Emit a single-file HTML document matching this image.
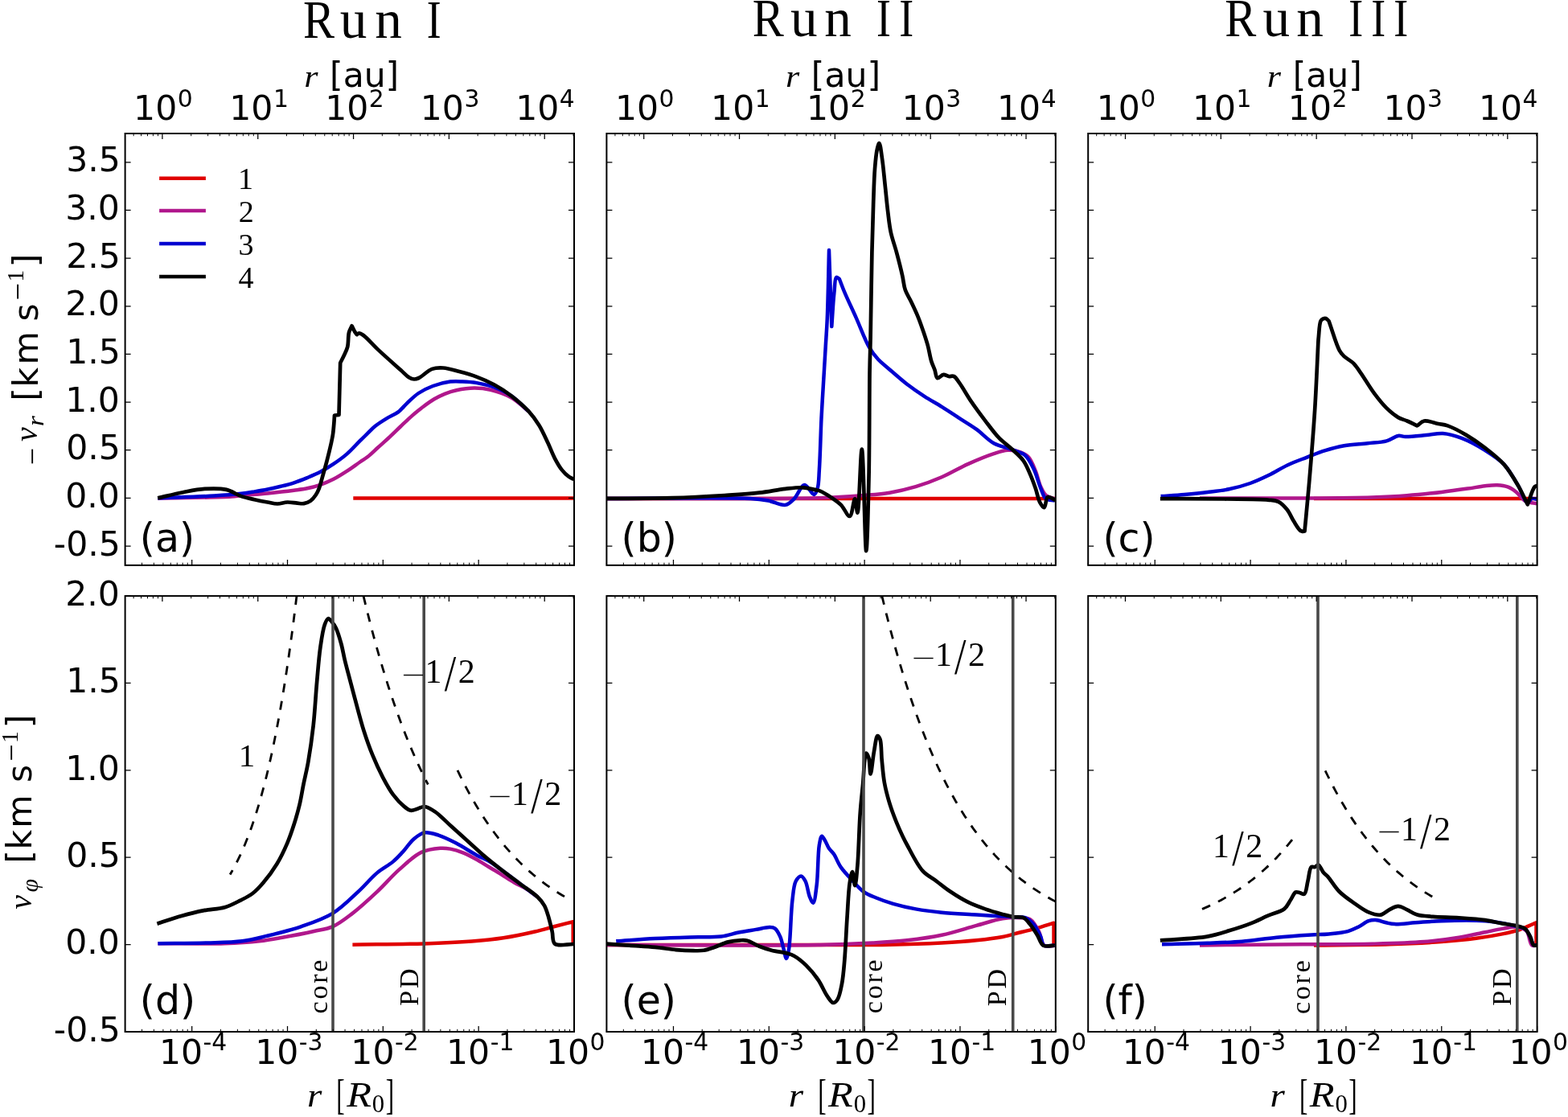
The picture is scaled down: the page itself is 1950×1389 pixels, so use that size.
<!DOCTYPE html><html><head><meta charset="utf-8"><title>Run I / Run II / Run III velocity profiles</title>
<style>html,body{margin:0;padding:0;background:#fff;}svg{display:block;}</style></head><body>
<svg width="1950" height="1389" viewBox="0 0 1950 1389">
<rect x="0" y="0" width="1950" height="1389" fill="#fff"/>
<defs>
<clipPath id="cp00"><rect x="155.60" y="166.00" width="558.40" height="536.90"/></clipPath>
<clipPath id="cp01"><rect x="754.40" y="166.00" width="558.40" height="536.90"/></clipPath>
<clipPath id="cp02"><rect x="1353.20" y="166.00" width="558.40" height="536.90"/></clipPath>
<clipPath id="cp10"><rect x="155.60" y="741.10" width="558.40" height="541.90"/></clipPath>
<clipPath id="cp11"><rect x="754.40" y="741.10" width="558.40" height="541.90"/></clipPath>
<clipPath id="cp12"><rect x="1353.20" y="741.10" width="558.40" height="541.90"/></clipPath>
</defs>
<g clip-path="url(#cp00)" fill="none" stroke-linejoin="round" stroke-linecap="butt"><path d="M439.30 619.60 L713.70 619.60" stroke="#e00000" stroke-width="4.5"/><path d="M196.20 619.70 C226.80 619.00 271.76 618.66 288.00 617.60 C293.89 617.21 295.01 616.79 300.00 616.30 C308.24 615.49 321.87 614.50 332.80 613.40 C343.74 612.30 356.55 610.87 365.60 609.70 C372.01 608.87 376.57 608.44 382.00 607.30 C387.50 606.15 393.00 604.68 398.40 602.80 C403.93 600.87 409.42 598.55 414.80 595.80 C420.39 592.95 425.87 589.41 431.30 585.90 C436.84 582.32 443.01 577.71 447.70 574.50 C451.20 572.11 453.66 570.83 456.90 568.30 C460.99 565.11 465.51 560.53 470.00 556.50 C474.73 552.25 479.88 547.79 484.60 543.40 C489.20 539.12 493.45 534.83 498.00 530.50 C502.67 526.06 507.51 521.28 512.30 517.10 C516.84 513.14 521.34 509.49 526.00 506.00 C530.58 502.57 535.32 499.07 540.00 496.30 C544.32 493.74 548.46 491.63 553.00 489.80 C557.68 487.91 562.24 486.38 567.70 485.20 C574.28 483.78 582.67 482.53 589.90 482.50 C596.79 482.47 603.06 483.11 610.10 484.80 C618.31 486.77 628.08 490.01 636.00 494.50 C643.91 498.98 650.40 505.97 657.60 511.70" stroke="#b0178c" stroke-width="4.5"/><path d="M196.20 619.30 C219.60 618.37 247.27 617.65 266.40 616.50 C279.65 615.70 290.80 614.84 300.00 613.80 C306.45 613.07 310.94 612.28 316.40 611.40 C321.87 610.52 327.35 609.60 332.80 608.50 C338.28 607.40 343.75 606.16 349.20 604.80 C354.68 603.43 360.17 602.07 365.60 600.30 C371.11 598.51 376.57 596.33 382.00 594.10 C387.50 591.84 393.02 589.61 398.40 586.80 C403.96 583.90 409.41 580.52 414.80 576.90 C420.38 573.15 425.97 569.21 431.30 564.60 C436.96 559.71 443.01 552.84 447.70 548.20 C451.20 544.74 453.80 542.21 456.90 539.20 C460.04 536.15 462.76 532.95 466.40 530.00 C470.57 526.62 475.93 523.27 480.80 520.30 C485.54 517.41 490.94 515.59 495.20 512.40 C499.31 509.32 502.08 505.27 506.00 501.60 C510.39 497.49 515.08 492.57 520.40 489.00 C525.85 485.34 531.99 482.37 538.40 480.00 C545.14 477.51 553.41 475.43 560.00 474.60 C565.41 473.92 569.79 474.28 575.00 474.50 C580.69 474.74 586.62 475.06 592.80 476.10 C599.70 477.26 607.34 478.89 614.40 481.50 C621.75 484.22 629.10 487.60 636.00 492.30 C643.56 497.45 650.40 505.23 657.60 511.70" stroke="#0000d0" stroke-width="4.5"/><path d="M196.20 619.30 C206.63 616.93 217.42 614.14 227.50 612.20 C236.80 610.41 245.47 608.45 254.50 607.90 C263.47 607.36 273.50 607.05 281.50 608.90 C288.42 610.50 293.93 615.01 300.00 617.10 C305.55 619.01 310.92 619.96 316.40 621.20 C321.85 622.43 327.72 623.58 332.80 624.50 C337.19 625.30 341.00 626.50 345.10 626.50 C349.20 626.50 353.29 624.63 357.40 624.50 C361.49 624.37 366.01 625.43 369.70 625.70 C372.71 625.92 375.21 626.54 377.90 626.10 C380.68 625.65 383.69 624.58 386.10 622.90 C388.66 621.12 390.90 618.16 392.70 615.50 C394.43 612.94 395.56 610.46 396.80 607.30 C398.37 603.31 399.44 598.42 400.90 593.30 C402.66 587.12 404.81 579.65 406.60 572.80 C408.38 565.98 410.29 558.28 411.60 552.30 C412.61 547.69 413.39 544.17 414.00 540.00 C414.63 535.74 414.96 531.10 415.30 527.00 C415.61 523.32 415.77 520.00 416.00 516.50 L416.00 516.50 L421.50 516.00 L421.50 516.00 L423.20 451.20 L423.20 451.20 C424.70 448.20 426.25 445.36 427.70 442.20 C429.26 438.79 431.15 435.55 432.20 431.40 C433.50 426.24 432.74 418.14 434.00 413.40 C434.88 410.08 436.40 408.00 437.60 405.30 L437.60 405.30 C438.80 407.70 440.00 410.55 441.20 412.50 C442.10 413.95 443.00 414.90 443.90 416.10 L443.90 416.10 C444.80 415.50 445.52 414.37 446.60 414.30 C448.07 414.21 449.81 415.44 452.00 417.00 C456.57 420.26 463.85 428.88 470.80 435.40 C479.07 443.16 491.45 454.04 498.50 460.30 C502.82 464.13 505.82 467.67 509.00 469.50 C511.14 470.73 512.99 471.42 515.00 471.50 C516.99 471.58 518.63 471.07 521.00 470.00 C525.22 468.10 531.75 460.89 537.20 458.90 C541.80 457.22 546.07 457.19 551.10 457.50 C557.21 457.88 564.41 460.30 571.20 462.10 C578.30 463.98 585.69 465.94 592.80 468.60 C600.09 471.32 607.34 474.46 614.40 478.30 C621.76 482.31 629.00 486.94 636.00 492.30 C643.43 497.99 651.59 505.11 657.60 511.70 C662.78 517.38 666.64 522.73 670.50 529.00 C674.59 535.63 677.97 543.55 681.30 550.60 C684.44 557.23 686.90 564.23 690.00 570.10 C692.72 575.25 695.47 580.16 698.60 584.10 C701.30 587.50 704.47 590.64 707.30 592.70 C709.47 594.28 711.57 594.90 713.70 596.00" stroke="#000000" stroke-width="4.7"/></g>
<g clip-path="url(#cp01)" fill="none" stroke-linejoin="round" stroke-linecap="butt"><path d="M754.30 620.10 L1312.60 620.10" stroke="#e00000" stroke-width="4.5"/><path d="M754.30 619.90 C842.87 619.67 964.97 620.90 1020.00 619.20 C1044.83 618.43 1058.30 617.26 1074.00 616.00 C1086.18 615.02 1095.66 614.48 1106.40 612.70 C1117.26 610.90 1128.10 608.39 1138.80 605.20 C1149.70 601.95 1160.53 597.91 1171.20 593.30 C1182.13 588.58 1192.70 582.00 1203.60 577.10 C1214.30 572.29 1226.79 567.08 1236.00 564.10 C1242.58 561.97 1247.70 560.08 1253.30 559.80 C1258.48 559.54 1263.93 560.40 1268.40 562.00 C1272.46 563.45 1276.17 565.23 1279.20 568.50 C1282.94 572.54 1285.31 579.69 1287.80 585.70 C1290.37 591.91 1291.80 599.77 1294.30 605.20 C1296.26 609.45 1297.83 613.48 1300.80 616.00 C1303.66 618.42 1308.00 618.87 1311.60 620.30" stroke="#b0178c" stroke-width="4.5"/><path d="M754.30 619.90 C814.07 619.90 902.83 618.05 933.60 619.90 C944.32 620.54 948.04 621.18 955.20 622.50 C962.44 623.84 971.03 628.98 976.80 627.90 C981.25 627.07 984.10 623.70 987.60 620.30 C992.07 615.95 996.10 603.32 1000.50 603.00 C1004.39 602.72 1009.58 615.28 1012.40 614.90 C1014.43 614.62 1015.64 610.68 1016.70 607.30 C1018.45 601.72 1018.24 593.42 1018.90 583.60 C1019.97 567.54 1020.58 538.75 1021.50 520.00 C1022.23 505.12 1022.98 493.99 1023.80 480.00 C1024.70 464.56 1025.82 446.31 1026.70 431.30 C1027.46 418.40 1028.19 409.82 1028.80 395.30 C1029.74 373.09 1030.27 339.10 1031.00 311.00 L1031.00 311.00 L1034.30 406.10 L1034.30 406.10 C1035.30 392.40 1036.05 376.27 1037.30 365.00 C1038.18 357.06 1038.17 345.79 1040.30 344.80 C1041.27 344.35 1042.70 346.27 1043.90 347.00 L1043.90 347.00 C1046.07 352.53 1047.70 357.22 1050.40 363.60 C1054.17 372.51 1059.91 384.38 1064.80 395.30 C1070.00 406.91 1075.32 421.96 1080.70 431.30 C1084.49 437.89 1088.10 442.61 1092.20 447.10 C1095.83 451.07 1099.14 453.26 1103.70 457.20 C1110.28 462.88 1120.00 471.63 1128.00 477.80 C1135.28 483.41 1142.31 488.19 1149.60 492.90 C1156.72 497.51 1164.04 501.33 1171.20 505.80 C1178.45 510.33 1185.60 515.21 1192.80 519.90 C1200.00 524.58 1207.33 528.79 1214.40 533.90 C1221.74 539.19 1228.42 547.01 1236.00 551.20 C1242.89 555.01 1250.85 556.05 1257.60 558.70 C1263.74 561.11 1270.26 562.29 1274.90 566.30 C1279.72 570.47 1282.58 577.20 1285.70 583.60 C1289.16 590.72 1291.44 600.65 1294.30 607.30 C1296.47 612.35 1297.58 617.83 1300.80 620.30 C1303.60 622.45 1308.00 621.77 1311.60 622.50" stroke="#0000d0" stroke-width="4.5"/><path d="M754.30 619.90 C781.67 619.67 810.66 619.95 836.40 619.20 C859.28 618.54 881.79 617.22 901.20 616.00 C917.06 615.00 931.06 614.22 944.40 612.70 C956.00 611.38 967.07 608.87 976.80 607.80 C984.71 606.93 991.62 605.91 998.40 606.30 C1004.51 606.65 1011.87 608.66 1015.70 609.50 C1017.62 609.92 1018.24 609.88 1020.00 610.60 C1023.23 611.92 1028.76 615.28 1033.00 618.10 C1037.40 621.03 1042.02 624.05 1045.90 627.90 C1049.96 631.93 1053.89 642.42 1056.70 641.90 C1059.87 641.31 1061.54 620.21 1063.20 620.30 C1064.66 620.38 1065.40 637.66 1066.40 637.60 C1068.51 637.48 1070.17 558.68 1071.80 558.70 C1073.87 558.73 1075.67 685.10 1077.20 685.10 C1078.49 685.10 1079.76 627.60 1080.50 594.40 C1081.40 554.00 1081.08 491.68 1081.60 460.00 C1081.89 442.67 1082.25 436.38 1082.60 419.80 C1083.16 392.89 1083.70 344.64 1084.40 313.90 C1084.94 290.19 1085.52 269.69 1086.20 250.90 C1086.75 235.68 1087.06 221.41 1088.00 209.60 C1088.71 200.69 1089.43 191.93 1090.70 186.20 C1091.47 182.75 1092.54 178.04 1093.40 178.10 C1094.69 178.19 1095.92 189.83 1097.00 197.00 C1098.40 206.33 1099.41 218.46 1100.60 229.40 C1101.82 240.62 1102.90 253.00 1104.20 263.50 C1105.32 272.55 1106.02 280.36 1107.80 288.70 C1109.60 297.16 1112.67 305.20 1115.00 313.90 C1117.48 323.16 1120.29 334.22 1122.20 342.70 C1123.70 349.35 1123.90 355.07 1125.80 360.60 C1127.58 365.79 1130.52 369.79 1133.00 375.00 C1135.89 381.05 1139.30 388.14 1142.00 394.80 C1144.66 401.35 1147.02 408.39 1149.10 414.60 C1150.92 420.04 1152.44 424.57 1153.90 430.00 C1155.50 435.97 1156.54 443.58 1158.20 449.00 C1159.49 453.22 1161.21 456.38 1162.50 460.00 C1163.73 463.45 1163.81 469.43 1165.80 470.20 C1167.58 470.89 1170.83 466.16 1173.30 465.90 C1175.49 465.67 1177.61 467.65 1179.80 468.00 C1181.94 468.34 1184.32 467.09 1186.30 468.00 C1188.76 469.13 1190.32 472.25 1192.80 475.60 C1196.96 481.23 1202.56 491.56 1207.90 499.40 C1213.35 507.40 1219.35 515.45 1225.20 523.10 C1230.88 530.53 1236.64 538.63 1242.50 544.70 C1247.47 549.85 1252.65 553.11 1257.60 557.70 C1262.72 562.45 1268.70 567.24 1272.70 572.80 C1276.50 578.09 1278.76 584.28 1281.30 590.10 C1283.78 595.78 1285.81 601.53 1287.80 607.30 C1289.77 613.03 1290.90 620.37 1293.20 624.60 C1294.77 627.49 1297.10 631.38 1298.60 631.10 C1300.51 630.74 1300.51 619.29 1302.90 618.10 C1304.59 617.26 1307.66 619.43 1309.40 620.30 C1310.71 620.96 1311.53 621.77 1312.60 622.50" stroke="#000000" stroke-width="4.7"/></g>
<g clip-path="url(#cp02)" fill="none" stroke-linejoin="round" stroke-linecap="butt"><path d="M1634.00 620.10 L1911.60 620.10" stroke="#e00000" stroke-width="4.5"/><path d="M1492.00 619.50 C1534.67 619.50 1581.51 619.74 1620.00 619.50 C1651.62 619.30 1682.55 619.16 1706.40 618.40 C1723.28 617.86 1735.21 617.28 1749.60 616.20 C1764.01 615.12 1779.45 613.45 1792.80 611.90 C1804.39 610.55 1815.50 608.98 1825.20 607.60 C1833.13 606.47 1840.23 605.02 1846.80 604.30 C1852.27 603.70 1857.07 603.07 1861.90 603.30 C1866.41 603.51 1870.90 603.93 1874.90 605.40 C1878.82 606.83 1882.26 609.21 1885.70 611.90 C1889.49 614.86 1892.38 620.37 1896.50 622.70 C1900.35 624.87 1906.88 625.59 1909.40 625.90 C1910.43 626.03 1910.87 625.90 1911.60 625.90" stroke="#b0178c" stroke-width="4.5"/><path d="M1443.60 617.10 C1453.33 616.40 1463.07 615.83 1472.80 615.00 C1482.54 614.17 1492.52 613.25 1502.00 612.10 C1511.03 611.00 1519.67 610.13 1528.40 608.30 C1537.23 606.45 1546.29 603.98 1554.70 601.00 C1562.83 598.11 1570.38 594.55 1578.10 590.80 C1585.98 586.97 1593.59 581.90 1601.50 578.20 C1609.20 574.59 1617.09 571.83 1624.90 568.80 C1632.66 565.79 1640.36 562.54 1648.20 560.10 C1655.93 557.69 1663.30 555.65 1671.60 554.20 C1680.76 552.60 1691.69 552.33 1700.90 551.30 C1709.14 550.38 1717.54 550.28 1724.30 548.40 C1729.87 546.85 1734.57 542.52 1738.90 541.90 C1742.13 541.44 1743.98 542.99 1747.70 543.10 C1754.12 543.29 1765.79 541.83 1774.00 541.10 C1781.24 540.45 1787.41 538.49 1794.40 539.00 C1801.98 539.55 1809.75 541.84 1817.80 544.90 C1827.22 548.48 1838.09 554.45 1847.10 560.10 C1855.57 565.42 1863.77 570.49 1870.50 577.60 C1877.49 584.99 1882.90 595.52 1888.00 603.90 C1892.46 611.23 1896.24 624.46 1899.70 625.00 C1901.60 625.30 1902.96 620.64 1905.00 620.00 C1906.95 619.39 1909.40 620.67 1911.60 621.00" stroke="#0000d0" stroke-width="4.5"/><path d="M1442.90 620.10 C1469.53 620.23 1498.77 620.20 1522.80 620.50 C1542.56 620.75 1565.01 620.48 1576.80 621.60 C1582.60 622.15 1585.83 621.93 1589.70 623.80 C1593.78 625.77 1597.35 629.62 1600.50 633.50 C1603.95 637.75 1606.31 644.04 1609.20 648.60 C1611.71 652.56 1614.47 657.49 1616.70 659.40 C1617.88 660.41 1618.90 660.47 1620.00 661.00 L1620.00 661.00 L1622.50 660.50 L1622.50 660.50 C1624.27 641.63 1625.98 625.13 1627.80 603.90 C1630.14 576.63 1633.13 541.09 1635.10 510.40 C1637.00 480.69 1638.03 451.87 1639.50 422.60 L1639.50 422.60 C1640.50 414.73 1640.49 402.84 1642.50 399.00 C1643.33 397.42 1644.37 396.79 1645.50 396.30 C1646.55 395.84 1647.90 395.63 1649.00 396.00 C1650.29 396.43 1651.40 398.13 1652.60 399.20 L1652.60 399.20 C1657.00 411.40 1661.70 428.45 1665.80 435.80 C1667.81 439.40 1669.14 440.71 1671.60 443.10 C1674.68 446.10 1679.88 448.48 1683.30 451.90 C1686.72 455.32 1688.75 458.86 1692.10 463.60 C1697.03 470.56 1703.81 482.16 1709.60 489.90 C1714.53 496.48 1719.15 502.37 1724.30 507.40 C1728.96 511.95 1734.16 516.35 1738.90 519.10 C1742.68 521.30 1746.23 521.85 1750.00 523.50 C1754.03 525.26 1758.20 527.43 1762.30 529.40 L1762.30 529.40 C1765.23 527.43 1767.49 524.22 1771.10 523.50 C1775.79 522.57 1783.35 525.94 1788.60 527.00 C1792.89 527.87 1795.85 527.86 1800.30 529.40 C1806.89 531.68 1816.05 536.60 1823.70 541.10 C1831.66 545.78 1839.47 551.19 1847.10 557.10 C1855.09 563.30 1863.70 569.84 1870.50 577.60 C1877.35 585.42 1882.98 595.24 1888.00 603.90 C1892.57 611.78 1895.80 619.50 1899.70 627.30 L1899.70 627.30 C1902.63 620.00 1905.73 608.36 1908.50 605.40 C1909.56 604.27 1910.57 604.40 1911.60 603.90" stroke="#000000" stroke-width="4.7"/></g>
<g clip-path="url(#cp10)" fill="none" stroke-linejoin="round" stroke-linecap="butt"><path d="M438.40 1174.70 C468.20 1174.27 501.10 1174.25 527.80 1173.40 C549.48 1172.71 569.06 1171.88 586.70 1170.50 C601.14 1169.37 612.95 1168.29 626.00 1166.30 C639.12 1164.30 653.82 1161.13 665.20 1158.50 C674.09 1156.45 680.90 1154.34 688.80 1152.30 C696.74 1150.24 704.73 1148.23 712.70 1146.20 L712.70 1146.20 L712.70 1174.50" stroke="#e00000" stroke-width="4.5"/><path d="M196.40 1173.20 C224.13 1173.20 256.38 1173.98 279.60 1173.20 C296.35 1172.64 309.93 1171.75 322.80 1170.30 C333.29 1169.12 340.99 1167.62 351.20 1165.80 C363.26 1163.65 379.10 1160.56 390.50 1158.00 C399.36 1156.01 406.44 1155.45 414.00 1152.10 C422.18 1148.48 429.39 1142.68 437.60 1136.40 C447.56 1128.78 459.04 1118.24 469.00 1108.90 C478.60 1099.89 486.99 1089.74 496.40 1081.40 C505.32 1073.49 514.59 1064.27 523.90 1059.90 C531.63 1056.27 540.75 1055.30 547.40 1054.80 C552.22 1054.44 555.61 1054.81 560.00 1055.60 C565.02 1056.51 570.61 1058.34 575.80 1060.40 C581.18 1062.54 586.47 1065.43 591.70 1068.30 C597.03 1071.22 602.22 1074.64 607.50 1077.80 C612.79 1080.97 618.13 1084.07 623.40 1087.30 C628.69 1090.54 633.87 1094.14 639.20 1097.20 C644.41 1100.20 650.06 1102.42 655.00 1105.50 C659.77 1108.47 663.93 1112.03 668.40 1115.30" stroke="#b0178c" stroke-width="4.5"/><path d="M196.40 1173.20 C216.93 1172.97 239.29 1173.08 258.00 1172.50 C273.68 1172.01 288.12 1172.00 301.20 1170.30 C312.28 1168.86 320.62 1166.55 331.60 1163.90 C344.78 1160.72 360.90 1156.90 374.80 1152.10 C388.34 1147.42 402.16 1142.88 414.00 1135.60 C425.66 1128.43 435.84 1117.70 445.40 1108.90 C454.00 1100.99 461.22 1091.93 469.00 1085.40 C475.60 1079.86 483.05 1076.25 488.60 1071.60 C493.22 1067.73 496.34 1064.24 500.40 1059.90 C505.10 1054.86 509.91 1047.23 515.00 1043.00 C519.18 1039.52 523.19 1036.24 528.00 1035.40 C533.20 1034.49 539.33 1036.74 545.30 1038.60 C552.23 1040.76 559.48 1044.48 566.90 1048.30 C575.25 1052.59 584.99 1059.17 592.80 1063.40 C599.06 1066.78 604.57 1068.72 610.00 1072.00 C615.36 1075.23 619.71 1078.88 625.20 1082.90 C631.79 1087.74 639.60 1093.70 646.80 1099.10 C654.00 1104.50 661.20 1109.90 668.40 1115.30" stroke="#0000d0" stroke-width="4.5"/><path d="M195.40 1148.70 C205.47 1145.47 215.67 1141.81 225.60 1139.00 C235.09 1136.31 244.48 1133.92 253.70 1132.10 C262.47 1130.37 271.73 1130.49 279.60 1128.20 C286.68 1126.14 293.01 1122.62 299.00 1119.60 C304.42 1116.86 309.47 1114.53 314.10 1111.00 C318.86 1107.37 322.67 1103.19 327.10 1098.00 C332.71 1091.44 339.35 1082.52 344.40 1074.20 C349.41 1065.95 353.63 1056.90 357.30 1048.30 C360.76 1040.17 363.43 1032.05 366.00 1024.00 C368.48 1016.22 370.61 1008.78 372.50 1000.80 C374.47 992.47 375.74 983.75 377.50 975.00 C379.33 965.92 381.48 957.70 383.30 947.30 C385.62 934.08 387.94 917.79 389.70 902.00 C391.61 884.82 392.56 864.99 394.10 848.00 C395.48 832.79 396.53 817.62 398.40 804.80 C399.91 794.39 401.48 782.96 403.80 776.70 C405.08 773.26 406.47 769.48 408.10 769.20 C409.44 768.97 411.07 771.38 412.50 773.00 C414.33 775.08 416.15 777.61 417.80 781.00 C420.22 785.96 422.49 793.95 424.30 800.50 C426.08 806.95 427.10 813.72 428.60 820.00 C430.01 825.93 431.27 830.57 433.00 837.20 C435.37 846.31 438.54 858.32 441.60 869.60 C444.96 881.98 448.57 896.42 452.40 908.50 C455.82 919.27 459.19 928.90 463.20 938.70 C467.14 948.33 471.64 958.16 476.20 966.80 C480.31 974.59 484.44 982.19 489.10 988.40 C493.16 993.82 498.00 999.00 502.10 1002.40 C505.09 1004.88 507.72 1007.31 510.70 1007.80 C513.50 1008.26 516.52 1006.50 519.40 1005.70 C522.29 1004.90 524.89 1002.76 528.00 1003.00 C531.94 1003.30 536.46 1006.34 541.00 1009.40 C547.09 1013.50 553.77 1020.75 560.40 1026.70 C567.42 1033.00 574.80 1039.71 582.00 1046.20 C589.20 1052.68 596.31 1059.42 603.60 1065.60 C610.72 1071.64 617.96 1077.28 625.20 1082.90 C632.36 1088.45 639.60 1093.70 646.80 1099.10 C654.00 1104.50 663.06 1110.11 668.40 1115.30 C672.22 1119.01 674.71 1121.98 677.00 1126.10 C679.47 1130.54 680.81 1135.95 682.40 1141.20 C684.07 1146.73 685.40 1152.92 686.70 1158.50 C687.91 1163.70 686.54 1170.77 690.00 1173.60 C694.28 1177.11 705.80 1173.87 713.70 1174.00" stroke="#000000" stroke-width="4.7"/></g>
<g clip-path="url(#cp11)" fill="none" stroke-linejoin="round" stroke-linecap="butt"><path d="M754.30 1175.00 C842.87 1175.00 955.67 1175.11 1020.00 1175.00 C1056.68 1174.94 1079.67 1175.20 1106.40 1174.70 C1129.55 1174.27 1151.79 1173.55 1171.20 1172.50 C1187.06 1171.64 1201.05 1170.68 1214.40 1169.30 C1225.99 1168.10 1237.14 1166.86 1246.80 1165.00 C1254.78 1163.46 1261.20 1161.32 1268.40 1159.50 C1275.60 1157.68 1282.92 1156.09 1290.00 1154.10 C1296.95 1152.15 1303.67 1149.83 1310.50 1147.70 L1310.50 1147.70 L1310.50 1175.70" stroke="#e00000" stroke-width="4.5"/><path d="M754.30 1175.00 C842.87 1175.00 961.45 1176.13 1020.00 1175.00 C1048.93 1174.44 1065.39 1173.59 1084.80 1172.50 C1100.66 1171.61 1113.63 1170.91 1128.00 1169.30 C1142.43 1167.68 1156.89 1165.84 1171.20 1162.80 C1185.69 1159.73 1201.03 1154.52 1214.40 1150.90 C1225.97 1147.77 1237.02 1143.83 1246.80 1142.30 C1254.66 1141.07 1262.14 1140.85 1268.40 1141.20 C1273.27 1141.47 1277.59 1140.99 1281.30 1143.30 C1285.74 1146.06 1289.21 1153.08 1292.10 1158.50 C1294.97 1163.88 1294.81 1173.08 1298.60 1175.70 C1301.79 1177.90 1307.27 1175.70 1311.60 1175.70" stroke="#b0178c" stroke-width="4.5"/><path d="M766.20 1170.30 C782.40 1169.23 799.07 1167.93 814.80 1167.10 C829.62 1166.32 843.98 1165.84 858.00 1165.40 C871.30 1164.98 885.89 1165.89 896.90 1164.50 C905.21 1163.45 911.28 1160.94 918.50 1159.50 C925.68 1158.07 933.31 1157.02 940.10 1155.90 C946.16 1154.90 952.95 1152.96 957.30 1153.10 C959.99 1153.19 961.87 1153.23 963.80 1154.60 C966.40 1156.45 968.56 1160.99 970.30 1164.90 C972.28 1169.35 973.26 1175.35 974.60 1180.10 C975.78 1184.28 976.82 1191.90 977.90 1191.90 C978.98 1191.90 980.16 1185.62 981.10 1180.10 C983.18 1167.81 983.45 1135.11 985.40 1119.60 C986.63 1109.81 986.97 1100.97 989.70 1095.80 C991.38 1092.62 994.18 1089.31 996.20 1089.40 C998.14 1089.49 1000.05 1092.86 1001.60 1095.80 C1004.01 1100.36 1004.96 1110.42 1007.00 1115.30 C1008.33 1118.49 1010.07 1123.00 1011.30 1122.80 C1013.31 1122.47 1014.53 1109.24 1015.70 1100.20 C1017.42 1086.90 1017.04 1060.97 1018.90 1050.50 C1019.79 1045.52 1020.66 1039.92 1022.10 1039.70 C1023.30 1039.51 1025.11 1043.83 1026.50 1046.20 C1028.03 1048.82 1029.02 1052.12 1030.80 1054.80 C1032.61 1057.53 1035.49 1059.67 1037.30 1062.40 C1039.08 1065.08 1040.13 1068.24 1041.60 1071.00 C1043.00 1073.63 1043.89 1075.75 1045.90 1078.60 C1048.93 1082.91 1054.31 1088.75 1058.90 1093.70 C1063.65 1098.82 1068.63 1104.94 1074.00 1108.80 C1078.77 1112.23 1083.54 1113.95 1089.10 1116.30 C1095.58 1119.04 1102.96 1121.65 1110.70 1123.90 C1119.39 1126.42 1129.06 1128.63 1138.80 1130.40 C1149.17 1132.28 1159.60 1133.56 1171.20 1134.70 C1184.55 1136.02 1200.00 1136.60 1214.40 1137.50 C1228.80 1138.40 1246.44 1139.41 1257.60 1140.10 C1264.66 1140.54 1270.05 1139.33 1274.90 1141.20 C1279.23 1142.87 1282.59 1146.17 1285.70 1149.80 C1289.19 1153.87 1292.17 1160.22 1294.30 1164.90 C1296.01 1168.66 1295.39 1173.62 1298.00 1175.50 C1300.87 1177.57 1307.07 1175.63 1311.60 1175.70" stroke="#0000d0" stroke-width="4.5"/><path d="M754.30 1173.60 C763.67 1174.30 772.70 1175.01 782.40 1175.70 C792.81 1176.44 804.62 1176.93 814.80 1177.90 C823.93 1178.77 832.45 1180.38 840.70 1181.10 C848.21 1181.75 856.01 1182.14 862.30 1182.20 C867.18 1182.25 871.02 1182.50 875.30 1181.80 C879.66 1181.09 883.61 1179.45 888.20 1177.90 C893.57 1176.08 899.85 1172.84 905.50 1171.40 C910.63 1170.10 916.25 1169.50 920.60 1169.30 C923.89 1169.15 926.09 1168.91 929.30 1169.70 C933.74 1170.80 939.30 1174.77 944.40 1176.80 C949.37 1178.78 954.10 1180.40 959.50 1181.80 C965.51 1183.36 973.76 1184.07 978.90 1185.50 C982.42 1186.48 984.46 1186.94 987.60 1188.70 C992.13 1191.23 997.90 1195.91 1002.70 1200.60 C1008.03 1205.81 1013.44 1212.49 1017.80 1218.90 C1022.03 1225.11 1025.04 1233.36 1028.60 1238.40 C1031.15 1242.02 1033.79 1246.79 1036.20 1247.00 C1038.07 1247.16 1040.08 1245.00 1041.60 1242.70 C1044.20 1238.77 1045.61 1230.42 1047.00 1223.30 C1048.65 1214.86 1049.25 1206.10 1050.20 1195.20 C1051.52 1180.13 1052.35 1158.19 1053.50 1141.20 C1054.53 1125.99 1055.10 1108.40 1056.70 1098.00 C1057.62 1092.01 1058.96 1083.98 1060.00 1084.00 C1061.14 1084.03 1062.21 1101.23 1063.20 1101.20 C1064.38 1101.17 1065.48 1086.64 1066.40 1076.40 C1067.88 1059.91 1068.39 1029.74 1069.70 1011.60 C1070.65 998.44 1071.72 989.47 1072.90 977.60 C1074.20 964.55 1074.93 936.92 1077.20 936.50 C1078.15 936.32 1079.65 940.15 1080.50 943.00 C1081.89 947.67 1081.67 962.48 1082.60 962.50 C1083.73 962.53 1085.40 942.88 1087.00 934.40 C1088.34 927.31 1089.46 915.39 1091.30 915.00 C1092.26 914.80 1093.66 917.09 1094.50 919.30 C1096.34 924.17 1095.83 936.40 1096.70 945.20 C1097.61 954.38 1098.24 964.18 1099.90 973.30 C1101.51 982.16 1103.84 990.82 1106.40 999.20 C1108.89 1007.34 1112.09 1015.69 1115.00 1022.90 C1117.50 1029.11 1120.22 1035.02 1122.60 1040.00 C1124.49 1043.95 1125.55 1046.09 1128.00 1050.50 C1132.38 1058.39 1140.27 1075.01 1147.40 1082.90 C1152.79 1088.86 1158.94 1091.49 1164.70 1095.80 C1170.47 1100.12 1175.80 1104.63 1182.00 1108.80 C1188.69 1113.29 1196.26 1118.06 1203.60 1121.70 C1210.67 1125.21 1217.94 1127.85 1225.20 1130.40 C1232.34 1132.91 1240.50 1135.17 1246.80 1136.90 C1251.63 1138.23 1255.36 1139.38 1259.70 1140.10 C1264.00 1140.81 1269.06 1139.51 1272.70 1141.20 C1276.21 1142.83 1278.58 1146.49 1281.30 1149.80 C1284.39 1153.56 1287.27 1158.43 1290.00 1162.80 C1292.66 1167.07 1293.82 1173.58 1297.50 1175.70 C1301.08 1177.76 1306.90 1175.70 1311.60 1175.70" stroke="#000000" stroke-width="4.7"/></g>
<g clip-path="url(#cp12)" fill="none" stroke-linejoin="round" stroke-linecap="butt"><path d="M1634.00 1175.40 C1665.33 1175.03 1699.58 1175.17 1728.00 1174.30 C1751.61 1173.58 1773.40 1172.54 1792.80 1171.10 C1808.67 1169.92 1822.66 1168.57 1836.00 1166.80 C1847.60 1165.26 1858.73 1163.41 1868.40 1161.40 C1876.36 1159.74 1882.98 1158.35 1890.00 1156.00 C1897.02 1153.65 1903.67 1150.20 1910.50 1147.30 L1910.50 1147.30 L1910.50 1175.40" stroke="#e00000" stroke-width="4.5"/><path d="M1492.00 1175.40 C1534.67 1175.03 1581.51 1174.60 1620.00 1174.30 C1651.62 1174.05 1679.67 1174.33 1706.40 1173.70 C1729.56 1173.16 1751.81 1172.70 1771.20 1171.10 C1787.09 1169.79 1801.07 1167.87 1814.40 1165.70 C1826.01 1163.81 1837.09 1161.14 1846.80 1159.20 C1854.73 1157.62 1861.37 1156.00 1868.40 1154.90 C1875.02 1153.87 1882.39 1151.74 1887.80 1152.70 C1892.05 1153.45 1895.83 1155.02 1898.60 1158.10 C1902.03 1161.91 1902.00 1173.25 1905.10 1175.40 C1906.94 1176.67 1909.43 1175.40 1911.60 1175.40" stroke="#b0178c" stroke-width="4.5"/><path d="M1445.00 1174.30 C1463.73 1173.80 1483.70 1173.46 1501.20 1172.80 C1516.55 1172.22 1530.02 1171.88 1544.40 1170.70 C1558.82 1169.52 1573.19 1167.07 1587.60 1165.70 C1601.99 1164.34 1618.87 1163.25 1630.80 1162.50 C1639.23 1161.97 1645.04 1162.10 1652.40 1161.40 C1660.16 1160.67 1669.57 1159.91 1676.20 1158.10 C1681.26 1156.72 1684.86 1154.80 1689.10 1152.70 C1693.50 1150.52 1698.09 1146.55 1702.10 1145.20 C1705.15 1144.17 1707.56 1143.92 1710.70 1144.10 C1714.61 1144.32 1719.55 1146.45 1723.70 1147.30 C1727.45 1148.07 1730.11 1148.89 1734.50 1149.10 C1741.26 1149.42 1751.28 1147.91 1760.40 1147.30 C1770.60 1146.62 1781.22 1145.64 1792.80 1145.20 C1806.16 1144.69 1824.08 1144.33 1836.00 1144.70 C1844.44 1144.96 1849.96 1145.29 1857.60 1146.30 C1866.38 1147.47 1878.57 1149.93 1885.70 1151.70 C1890.18 1152.81 1893.64 1152.87 1896.50 1155.00 C1899.39 1157.15 1901.10 1161.21 1902.90 1164.60 C1904.71 1168.01 1905.28 1174.04 1907.30 1175.40 C1908.53 1176.23 1910.17 1175.40 1911.60 1175.40" stroke="#0000d0" stroke-width="4.5"/><path d="M1442.90 1169.40 C1462.33 1167.80 1485.37 1167.34 1501.20 1164.60 C1512.36 1162.67 1520.17 1159.85 1529.30 1157.10 C1538.15 1154.43 1547.03 1151.60 1555.20 1148.40 C1562.80 1145.42 1569.68 1141.79 1576.80 1138.70 C1583.70 1135.70 1592.47 1133.99 1597.30 1130.10 C1601.02 1127.11 1602.50 1122.83 1604.90 1119.30 C1607.16 1115.97 1608.87 1110.62 1611.30 1109.50 C1612.96 1108.74 1614.91 1109.84 1616.70 1110.20 C1618.51 1110.57 1620.65 1112.53 1622.10 1111.70 C1624.61 1110.27 1625.07 1101.00 1626.50 1095.50 C1627.97 1089.84 1628.37 1080.10 1630.80 1078.20 C1631.99 1077.27 1633.72 1078.60 1635.10 1078.20 C1636.60 1077.77 1637.96 1075.20 1639.40 1075.50 C1641.56 1075.95 1643.69 1082.42 1645.90 1085.00 C1647.67 1087.08 1649.19 1087.76 1651.30 1090.10 C1655.03 1094.23 1659.92 1102.98 1665.40 1108.50 C1671.04 1114.18 1678.40 1119.13 1684.80 1123.60 C1690.63 1127.67 1696.32 1132.07 1702.10 1134.40 C1707.13 1136.43 1712.72 1138.35 1717.20 1137.60 C1721.25 1136.92 1724.32 1132.92 1728.00 1131.10 C1731.53 1129.35 1735.20 1126.80 1738.80 1126.80 C1742.40 1126.80 1745.88 1129.43 1749.60 1131.10 C1753.75 1132.97 1757.61 1136.14 1762.50 1137.60 C1768.20 1139.30 1774.67 1139.22 1782.00 1139.80 C1791.43 1140.55 1803.61 1140.58 1814.40 1141.30 C1825.21 1142.02 1837.13 1142.72 1846.80 1144.10 C1854.76 1145.23 1861.59 1147.17 1868.40 1148.40 C1874.48 1149.50 1880.66 1149.94 1885.70 1151.20 C1889.77 1152.22 1893.64 1152.69 1896.50 1154.90 C1899.39 1157.13 1901.10 1161.19 1902.90 1164.60 C1904.70 1168.02 1905.28 1174.04 1907.30 1175.40 C1908.53 1176.23 1910.17 1175.40 1911.60 1175.40" stroke="#000000" stroke-width="4.7"/></g>
<g clip-path="url(#cp10)"><path d="M368.95 741.10 L366.88 758.15 L364.81 774.54 L362.73 790.28 L360.66 805.39 L358.59 819.92 L356.52 833.87 L354.45 847.28 L352.38 860.15 L350.31 872.52 L348.24 884.41 L346.16 895.82 L344.09 906.79 L342.02 917.33 L339.95 927.45 L337.88 937.17 L335.81 946.51 L333.74 955.49 L331.67 964.11 L329.60 972.39 L327.52 980.34 L325.45 987.98 L323.38 995.33 L321.31 1002.38 L319.24 1009.16 L317.17 1015.66 L315.10 1021.92 L313.03 1027.92 L310.95 1033.69 L308.88 1039.24 L306.81 1044.56 L304.74 1049.68 L302.67 1054.60 L300.60 1059.32 L298.53 1063.85 L296.46 1068.21 L294.38 1072.40 L292.31 1076.42 L290.24 1080.28 L288.17 1083.99 L286.10 1087.56" fill="none" stroke="#000" stroke-width="2.8" stroke-dasharray="11 11"/></g>
<g clip-path="url(#cp10)"><path d="M452.00 741.10 L454.01 749.45 L456.02 757.64 L458.02 765.67 L460.03 773.55 L462.04 781.27 L464.05 788.85 L466.05 796.28 L468.06 803.57 L470.07 810.71 L472.08 817.72 L474.08 824.60 L476.09 831.34 L478.10 837.95 L480.11 844.44 L482.11 850.80 L484.12 857.03 L486.13 863.15 L488.14 869.15 L490.14 875.03 L492.15 880.80 L494.16 886.46 L496.17 892.01 L498.17 897.46 L500.18 902.79 L502.19 908.03 L504.20 913.16 L506.20 918.20 L508.21 923.14 L510.22 927.98 L512.23 932.73 L514.23 937.39 L516.24 941.96 L518.25 946.44 L520.26 950.84 L522.26 955.15 L524.27 959.38 L526.28 963.52 L528.29 967.59 L530.29 971.58 L532.30 975.49" fill="none" stroke="#000" stroke-width="2.8" stroke-dasharray="11 11"/></g>
<g clip-path="url(#cp10)"><path d="M569.00 957.97 L572.35 964.89 L575.70 971.58 L579.04 978.06 L582.39 984.33 L585.74 990.40 L589.09 996.28 L592.43 1001.97 L595.78 1007.48 L599.13 1012.82 L602.48 1017.98 L605.82 1022.98 L609.17 1027.82 L612.52 1032.50 L615.87 1037.04 L619.21 1041.43 L622.56 1045.68 L625.91 1049.79 L629.25 1053.78 L632.60 1057.63 L635.95 1061.37 L639.30 1064.98 L642.64 1068.48 L645.99 1071.87 L649.34 1075.14 L652.69 1078.32 L656.03 1081.39 L659.38 1084.37 L662.73 1087.25 L666.08 1090.03 L669.42 1092.73 L672.77 1095.35 L676.12 1097.88 L679.47 1100.33 L682.81 1102.70 L686.16 1104.99 L689.51 1107.21 L692.86 1109.36 L696.20 1111.45 L699.55 1113.46 L702.90 1115.41" fill="none" stroke="#000" stroke-width="2.8" stroke-dasharray="11 11"/></g>
<g clip-path="url(#cp11)"><path d="M1096.82 741.10 L1102.22 763.19 L1107.62 784.16 L1113.02 804.06 L1118.42 822.95 L1123.82 840.87 L1129.22 857.88 L1134.62 874.03 L1140.02 889.35 L1145.42 903.89 L1150.82 917.68 L1156.22 930.78 L1161.61 943.21 L1167.01 955.00 L1172.41 966.19 L1177.81 976.82 L1183.21 986.90 L1188.61 996.47 L1194.01 1005.55 L1199.41 1014.16 L1204.81 1022.34 L1210.21 1030.10 L1215.61 1037.47 L1221.01 1044.46 L1226.41 1051.09 L1231.81 1057.39 L1237.21 1063.36 L1242.61 1069.03 L1248.01 1074.41 L1253.41 1079.52 L1258.81 1084.37 L1264.20 1088.97 L1269.60 1093.33 L1275.00 1097.48 L1280.40 1101.41 L1285.80 1105.14 L1291.20 1108.68 L1296.60 1112.04 L1302.00 1115.23 L1307.40 1118.26 L1312.80 1121.13" fill="none" stroke="#000" stroke-width="2.8" stroke-dasharray="11 11"/></g>
<g clip-path="url(#cp12)"><path d="M1607.00 1044.09 L1604.16 1047.63 L1601.33 1051.07 L1598.49 1054.42 L1595.66 1057.67 L1592.83 1060.84 L1589.99 1063.92 L1587.15 1066.92 L1584.32 1069.84 L1581.48 1072.68 L1578.65 1075.44 L1575.82 1078.13 L1572.98 1080.74 L1570.14 1083.29 L1567.31 1085.76 L1564.47 1088.17 L1561.64 1090.51 L1558.81 1092.79 L1555.97 1095.01 L1553.13 1097.16 L1550.30 1099.26 L1547.46 1101.30 L1544.63 1103.29 L1541.79 1105.22 L1538.96 1107.10 L1536.12 1108.93 L1533.29 1110.71 L1530.45 1112.44 L1527.62 1114.13 L1524.78 1115.77 L1521.95 1117.36 L1519.12 1118.91 L1516.28 1120.42 L1513.44 1121.89 L1510.61 1123.32 L1507.77 1124.71 L1504.94 1126.06 L1502.11 1127.38 L1499.27 1128.65 L1496.43 1129.90 L1493.60 1131.11" fill="none" stroke="#000" stroke-width="2.8" stroke-dasharray="11 11"/></g>
<g clip-path="url(#cp12)"><path d="M1648.10 958.28 L1651.47 965.24 L1654.85 971.97 L1658.22 978.49 L1661.60 984.80 L1664.97 990.91 L1668.35 996.82 L1671.72 1002.54 L1675.10 1008.07 L1678.47 1013.43 L1681.85 1018.62 L1685.22 1023.63 L1688.60 1028.49 L1691.97 1033.19 L1695.35 1037.74 L1698.72 1042.14 L1702.10 1046.41 L1705.47 1050.53 L1708.85 1054.52 L1712.22 1058.39 L1715.60 1062.13 L1718.97 1065.74 L1722.35 1069.25 L1725.72 1072.64 L1729.10 1075.92 L1732.47 1079.09 L1735.85 1082.17 L1739.22 1085.14 L1742.60 1088.02 L1745.97 1090.80 L1749.35 1093.50 L1752.72 1096.11 L1756.10 1098.64 L1759.47 1101.08 L1762.85 1103.45 L1766.22 1105.73 L1769.60 1107.95 L1772.97 1110.10 L1776.35 1112.17 L1779.72 1114.18 L1783.10 1116.12" fill="none" stroke="#000" stroke-width="2.8" stroke-dasharray="11 11"/></g>
<line x1="414.00" y1="741.10" x2="414.00" y2="1283.00" stroke="#484848" stroke-width="3.6"/>
<line x1="527.20" y1="741.10" x2="527.20" y2="1283.00" stroke="#484848" stroke-width="3.6"/>
<line x1="1074.00" y1="741.10" x2="1074.00" y2="1283.00" stroke="#484848" stroke-width="3.6"/>
<line x1="1259.70" y1="741.10" x2="1259.70" y2="1283.00" stroke="#484848" stroke-width="3.6"/>
<line x1="1639.00" y1="741.10" x2="1639.00" y2="1283.00" stroke="#484848" stroke-width="3.6"/>
<line x1="1886.80" y1="741.10" x2="1886.80" y2="1283.00" stroke="#484848" stroke-width="3.6"/>
<path d="M238.66 702.90V695.90M357.50 702.90V695.90M476.33 702.90V695.90M595.17 702.90V695.90M714.00 702.90V695.90M201.89 166.00V173.00M320.73 166.00V173.00M439.56 166.00V173.00M558.40 166.00V173.00M677.23 166.00V173.00M155.60 679.04H162.60M714.00 679.04H707.00M155.60 619.38H162.60M714.00 619.38H707.00M155.60 559.73H162.60M714.00 559.73H707.00M155.60 500.07H162.60M714.00 500.07H707.00M155.60 440.42H162.60M714.00 440.42H707.00M155.60 380.76H162.60M714.00 380.76H707.00M155.60 321.10H162.60M714.00 321.10H707.00M155.60 261.45H162.60M714.00 261.45H707.00M155.60 201.79H162.60M714.00 201.79H707.00" stroke="#000" stroke-width="1.25" fill="none"/>
<path d="M155.60 702.90V699.70M176.53 702.90V699.70M191.37 702.90V699.70M202.89 702.90V699.70M212.30 702.90V699.70M220.25 702.90V699.70M227.15 702.90V699.70M233.22 702.90V699.70M274.43 702.90V699.70M295.36 702.90V699.70M310.21 702.90V699.70M321.72 702.90V699.70M331.13 702.90V699.70M339.09 702.90V699.70M345.98 702.90V699.70M352.06 702.90V699.70M393.27 702.90V699.70M414.19 702.90V699.70M429.04 702.90V699.70M440.56 702.90V699.70M449.97 702.90V699.70M457.92 702.90V699.70M464.81 702.90V699.70M470.89 702.90V699.70M512.10 702.90V699.70M533.03 702.90V699.70M547.88 702.90V699.70M559.39 702.90V699.70M568.80 702.90V699.70M576.76 702.90V699.70M583.65 702.90V699.70M589.73 702.90V699.70M630.94 702.90V699.70M651.86 702.90V699.70M666.71 702.90V699.70M678.23 702.90V699.70M687.64 702.90V699.70M695.59 702.90V699.70M702.48 702.90V699.70M708.56 702.90V699.70M166.12 166.00V169.20M175.53 166.00V169.20M183.49 166.00V169.20M190.38 166.00V169.20M196.46 166.00V169.20M237.67 166.00V169.20M258.59 166.00V169.20M273.44 166.00V169.20M284.96 166.00V169.20M294.37 166.00V169.20M302.32 166.00V169.20M309.21 166.00V169.20M315.29 166.00V169.20M356.50 166.00V169.20M377.43 166.00V169.20M392.27 166.00V169.20M403.79 166.00V169.20M413.20 166.00V169.20M421.16 166.00V169.20M428.05 166.00V169.20M434.13 166.00V169.20M475.34 166.00V169.20M496.26 166.00V169.20M511.11 166.00V169.20M522.63 166.00V169.20M532.03 166.00V169.20M539.99 166.00V169.20M546.88 166.00V169.20M552.96 166.00V169.20M594.17 166.00V169.20M615.10 166.00V169.20M629.94 166.00V169.20M641.46 166.00V169.20M650.87 166.00V169.20M658.82 166.00V169.20M665.72 166.00V169.20M671.80 166.00V169.20M713.01 166.00V169.20" stroke="#000" stroke-width="1.00" fill="none"/>
<rect x="155.60" y="166.00" width="558.40" height="536.90" fill="none" stroke="#000" stroke-width="2"/>
<path d="M837.46 702.90V695.90M956.30 702.90V695.90M1075.13 702.90V695.90M1193.97 702.90V695.90M1312.80 702.90V695.90M800.69 166.00V173.00M919.53 166.00V173.00M1038.36 166.00V173.00M1157.20 166.00V173.00M1276.03 166.00V173.00M754.40 679.04H761.40M1312.80 679.04H1305.80M754.40 619.38H761.40M1312.80 619.38H1305.80M754.40 559.73H761.40M1312.80 559.73H1305.80M754.40 500.07H761.40M1312.80 500.07H1305.80M754.40 440.42H761.40M1312.80 440.42H1305.80M754.40 380.76H761.40M1312.80 380.76H1305.80M754.40 321.10H761.40M1312.80 321.10H1305.80M754.40 261.45H761.40M1312.80 261.45H1305.80M754.40 201.79H761.40M1312.80 201.79H1305.80" stroke="#000" stroke-width="1.25" fill="none"/>
<path d="M754.40 702.90V699.70M775.33 702.90V699.70M790.17 702.90V699.70M801.69 702.90V699.70M811.10 702.90V699.70M819.05 702.90V699.70M825.95 702.90V699.70M832.02 702.90V699.70M873.23 702.90V699.70M894.16 702.90V699.70M909.01 702.90V699.70M920.52 702.90V699.70M929.93 702.90V699.70M937.89 702.90V699.70M944.78 702.90V699.70M950.86 702.90V699.70M992.07 702.90V699.70M1012.99 702.90V699.70M1027.84 702.90V699.70M1039.36 702.90V699.70M1048.77 702.90V699.70M1056.72 702.90V699.70M1063.61 702.90V699.70M1069.69 702.90V699.70M1110.90 702.90V699.70M1131.83 702.90V699.70M1146.68 702.90V699.70M1158.19 702.90V699.70M1167.60 702.90V699.70M1175.56 702.90V699.70M1182.45 702.90V699.70M1188.53 702.90V699.70M1229.74 702.90V699.70M1250.66 702.90V699.70M1265.51 702.90V699.70M1277.03 702.90V699.70M1286.44 702.90V699.70M1294.39 702.90V699.70M1301.28 702.90V699.70M1307.36 702.90V699.70M764.92 166.00V169.20M774.33 166.00V169.20M782.29 166.00V169.20M789.18 166.00V169.20M795.26 166.00V169.20M836.47 166.00V169.20M857.39 166.00V169.20M872.24 166.00V169.20M883.76 166.00V169.20M893.17 166.00V169.20M901.12 166.00V169.20M908.01 166.00V169.20M914.09 166.00V169.20M955.30 166.00V169.20M976.23 166.00V169.20M991.07 166.00V169.20M1002.59 166.00V169.20M1012.00 166.00V169.20M1019.96 166.00V169.20M1026.85 166.00V169.20M1032.93 166.00V169.20M1074.14 166.00V169.20M1095.06 166.00V169.20M1109.91 166.00V169.20M1121.43 166.00V169.20M1130.83 166.00V169.20M1138.79 166.00V169.20M1145.68 166.00V169.20M1151.76 166.00V169.20M1192.97 166.00V169.20M1213.90 166.00V169.20M1228.74 166.00V169.20M1240.26 166.00V169.20M1249.67 166.00V169.20M1257.62 166.00V169.20M1264.52 166.00V169.20M1270.60 166.00V169.20M1311.81 166.00V169.20" stroke="#000" stroke-width="1.00" fill="none"/>
<rect x="754.40" y="166.00" width="558.40" height="536.90" fill="none" stroke="#000" stroke-width="2"/>
<path d="M1436.26 702.90V695.90M1555.10 702.90V695.90M1673.93 702.90V695.90M1792.77 702.90V695.90M1911.60 702.90V695.90M1399.49 166.00V173.00M1518.33 166.00V173.00M1637.16 166.00V173.00M1756.00 166.00V173.00M1874.83 166.00V173.00M1353.20 679.04H1360.20M1911.60 679.04H1904.60M1353.20 619.38H1360.20M1911.60 619.38H1904.60M1353.20 559.73H1360.20M1911.60 559.73H1904.60M1353.20 500.07H1360.20M1911.60 500.07H1904.60M1353.20 440.42H1360.20M1911.60 440.42H1904.60M1353.20 380.76H1360.20M1911.60 380.76H1904.60M1353.20 321.10H1360.20M1911.60 321.10H1904.60M1353.20 261.45H1360.20M1911.60 261.45H1904.60M1353.20 201.79H1360.20M1911.60 201.79H1904.60" stroke="#000" stroke-width="1.25" fill="none"/>
<path d="M1353.20 702.90V699.70M1374.13 702.90V699.70M1388.97 702.90V699.70M1400.49 702.90V699.70M1409.90 702.90V699.70M1417.85 702.90V699.70M1424.75 702.90V699.70M1430.82 702.90V699.70M1472.03 702.90V699.70M1492.96 702.90V699.70M1507.81 702.90V699.70M1519.32 702.90V699.70M1528.73 702.90V699.70M1536.69 702.90V699.70M1543.58 702.90V699.70M1549.66 702.90V699.70M1590.87 702.90V699.70M1611.79 702.90V699.70M1626.64 702.90V699.70M1638.16 702.90V699.70M1647.57 702.90V699.70M1655.52 702.90V699.70M1662.41 702.90V699.70M1668.49 702.90V699.70M1709.70 702.90V699.70M1730.63 702.90V699.70M1745.48 702.90V699.70M1756.99 702.90V699.70M1766.40 702.90V699.70M1774.36 702.90V699.70M1781.25 702.90V699.70M1787.33 702.90V699.70M1828.54 702.90V699.70M1849.46 702.90V699.70M1864.31 702.90V699.70M1875.83 702.90V699.70M1885.24 702.90V699.70M1893.19 702.90V699.70M1900.08 702.90V699.70M1906.16 702.90V699.70M1363.72 166.00V169.20M1373.13 166.00V169.20M1381.09 166.00V169.20M1387.98 166.00V169.20M1394.06 166.00V169.20M1435.27 166.00V169.20M1456.19 166.00V169.20M1471.04 166.00V169.20M1482.56 166.00V169.20M1491.97 166.00V169.20M1499.92 166.00V169.20M1506.81 166.00V169.20M1512.89 166.00V169.20M1554.10 166.00V169.20M1575.03 166.00V169.20M1589.87 166.00V169.20M1601.39 166.00V169.20M1610.80 166.00V169.20M1618.76 166.00V169.20M1625.65 166.00V169.20M1631.73 166.00V169.20M1672.94 166.00V169.20M1693.86 166.00V169.20M1708.71 166.00V169.20M1720.23 166.00V169.20M1729.63 166.00V169.20M1737.59 166.00V169.20M1744.48 166.00V169.20M1750.56 166.00V169.20M1791.77 166.00V169.20M1812.70 166.00V169.20M1827.54 166.00V169.20M1839.06 166.00V169.20M1848.47 166.00V169.20M1856.42 166.00V169.20M1863.32 166.00V169.20M1869.40 166.00V169.20M1910.61 166.00V169.20" stroke="#000" stroke-width="1.00" fill="none"/>
<rect x="1353.20" y="166.00" width="558.40" height="536.90" fill="none" stroke="#000" stroke-width="2"/>
<path d="M238.66 1283.00V1276.00M357.50 1283.00V1276.00M476.33 1283.00V1276.00M595.17 1283.00V1276.00M714.00 1283.00V1276.00M201.89 741.10V748.10M320.73 741.10V748.10M439.56 741.10V748.10M558.40 741.10V748.10M677.23 741.10V748.10M155.60 1283.00H162.60M714.00 1283.00H707.00M155.60 1174.62H162.60M714.00 1174.62H707.00M155.60 1066.24H162.60M714.00 1066.24H707.00M155.60 957.86H162.60M714.00 957.86H707.00M155.60 849.48H162.60M714.00 849.48H707.00M155.60 741.10H162.60M714.00 741.10H707.00" stroke="#000" stroke-width="1.25" fill="none"/>
<path d="M155.60 1283.00V1279.80M176.53 1283.00V1279.80M191.37 1283.00V1279.80M202.89 1283.00V1279.80M212.30 1283.00V1279.80M220.25 1283.00V1279.80M227.15 1283.00V1279.80M233.22 1283.00V1279.80M274.43 1283.00V1279.80M295.36 1283.00V1279.80M310.21 1283.00V1279.80M321.72 1283.00V1279.80M331.13 1283.00V1279.80M339.09 1283.00V1279.80M345.98 1283.00V1279.80M352.06 1283.00V1279.80M393.27 1283.00V1279.80M414.19 1283.00V1279.80M429.04 1283.00V1279.80M440.56 1283.00V1279.80M449.97 1283.00V1279.80M457.92 1283.00V1279.80M464.81 1283.00V1279.80M470.89 1283.00V1279.80M512.10 1283.00V1279.80M533.03 1283.00V1279.80M547.88 1283.00V1279.80M559.39 1283.00V1279.80M568.80 1283.00V1279.80M576.76 1283.00V1279.80M583.65 1283.00V1279.80M589.73 1283.00V1279.80M630.94 1283.00V1279.80M651.86 1283.00V1279.80M666.71 1283.00V1279.80M678.23 1283.00V1279.80M687.64 1283.00V1279.80M695.59 1283.00V1279.80M702.48 1283.00V1279.80M708.56 1283.00V1279.80M166.12 741.10V744.30M175.53 741.10V744.30M183.49 741.10V744.30M190.38 741.10V744.30M196.46 741.10V744.30M237.67 741.10V744.30M258.59 741.10V744.30M273.44 741.10V744.30M284.96 741.10V744.30M294.37 741.10V744.30M302.32 741.10V744.30M309.21 741.10V744.30M315.29 741.10V744.30M356.50 741.10V744.30M377.43 741.10V744.30M392.27 741.10V744.30M403.79 741.10V744.30M413.20 741.10V744.30M421.16 741.10V744.30M428.05 741.10V744.30M434.13 741.10V744.30M475.34 741.10V744.30M496.26 741.10V744.30M511.11 741.10V744.30M522.63 741.10V744.30M532.03 741.10V744.30M539.99 741.10V744.30M546.88 741.10V744.30M552.96 741.10V744.30M594.17 741.10V744.30M615.10 741.10V744.30M629.94 741.10V744.30M641.46 741.10V744.30M650.87 741.10V744.30M658.82 741.10V744.30M665.72 741.10V744.30M671.80 741.10V744.30M713.01 741.10V744.30" stroke="#000" stroke-width="1.00" fill="none"/>
<rect x="155.60" y="741.10" width="558.40" height="541.90" fill="none" stroke="#000" stroke-width="2"/>
<path d="M837.46 1283.00V1276.00M956.30 1283.00V1276.00M1075.13 1283.00V1276.00M1193.97 1283.00V1276.00M1312.80 1283.00V1276.00M800.69 741.10V748.10M919.53 741.10V748.10M1038.36 741.10V748.10M1157.20 741.10V748.10M1276.03 741.10V748.10M754.40 1283.00H761.40M1312.80 1283.00H1305.80M754.40 1174.62H761.40M1312.80 1174.62H1305.80M754.40 1066.24H761.40M1312.80 1066.24H1305.80M754.40 957.86H761.40M1312.80 957.86H1305.80M754.40 849.48H761.40M1312.80 849.48H1305.80M754.40 741.10H761.40M1312.80 741.10H1305.80" stroke="#000" stroke-width="1.25" fill="none"/>
<path d="M754.40 1283.00V1279.80M775.33 1283.00V1279.80M790.17 1283.00V1279.80M801.69 1283.00V1279.80M811.10 1283.00V1279.80M819.05 1283.00V1279.80M825.95 1283.00V1279.80M832.02 1283.00V1279.80M873.23 1283.00V1279.80M894.16 1283.00V1279.80M909.01 1283.00V1279.80M920.52 1283.00V1279.80M929.93 1283.00V1279.80M937.89 1283.00V1279.80M944.78 1283.00V1279.80M950.86 1283.00V1279.80M992.07 1283.00V1279.80M1012.99 1283.00V1279.80M1027.84 1283.00V1279.80M1039.36 1283.00V1279.80M1048.77 1283.00V1279.80M1056.72 1283.00V1279.80M1063.61 1283.00V1279.80M1069.69 1283.00V1279.80M1110.90 1283.00V1279.80M1131.83 1283.00V1279.80M1146.68 1283.00V1279.80M1158.19 1283.00V1279.80M1167.60 1283.00V1279.80M1175.56 1283.00V1279.80M1182.45 1283.00V1279.80M1188.53 1283.00V1279.80M1229.74 1283.00V1279.80M1250.66 1283.00V1279.80M1265.51 1283.00V1279.80M1277.03 1283.00V1279.80M1286.44 1283.00V1279.80M1294.39 1283.00V1279.80M1301.28 1283.00V1279.80M1307.36 1283.00V1279.80M764.92 741.10V744.30M774.33 741.10V744.30M782.29 741.10V744.30M789.18 741.10V744.30M795.26 741.10V744.30M836.47 741.10V744.30M857.39 741.10V744.30M872.24 741.10V744.30M883.76 741.10V744.30M893.17 741.10V744.30M901.12 741.10V744.30M908.01 741.10V744.30M914.09 741.10V744.30M955.30 741.10V744.30M976.23 741.10V744.30M991.07 741.10V744.30M1002.59 741.10V744.30M1012.00 741.10V744.30M1019.96 741.10V744.30M1026.85 741.10V744.30M1032.93 741.10V744.30M1074.14 741.10V744.30M1095.06 741.10V744.30M1109.91 741.10V744.30M1121.43 741.10V744.30M1130.83 741.10V744.30M1138.79 741.10V744.30M1145.68 741.10V744.30M1151.76 741.10V744.30M1192.97 741.10V744.30M1213.90 741.10V744.30M1228.74 741.10V744.30M1240.26 741.10V744.30M1249.67 741.10V744.30M1257.62 741.10V744.30M1264.52 741.10V744.30M1270.60 741.10V744.30M1311.81 741.10V744.30" stroke="#000" stroke-width="1.00" fill="none"/>
<rect x="754.40" y="741.10" width="558.40" height="541.90" fill="none" stroke="#000" stroke-width="2"/>
<path d="M1436.26 1283.00V1276.00M1555.10 1283.00V1276.00M1673.93 1283.00V1276.00M1792.77 1283.00V1276.00M1911.60 1283.00V1276.00M1399.49 741.10V748.10M1518.33 741.10V748.10M1637.16 741.10V748.10M1756.00 741.10V748.10M1874.83 741.10V748.10M1353.20 1283.00H1360.20M1911.60 1283.00H1904.60M1353.20 1174.62H1360.20M1911.60 1174.62H1904.60M1353.20 1066.24H1360.20M1911.60 1066.24H1904.60M1353.20 957.86H1360.20M1911.60 957.86H1904.60M1353.20 849.48H1360.20M1911.60 849.48H1904.60M1353.20 741.10H1360.20M1911.60 741.10H1904.60" stroke="#000" stroke-width="1.25" fill="none"/>
<path d="M1353.20 1283.00V1279.80M1374.13 1283.00V1279.80M1388.97 1283.00V1279.80M1400.49 1283.00V1279.80M1409.90 1283.00V1279.80M1417.85 1283.00V1279.80M1424.75 1283.00V1279.80M1430.82 1283.00V1279.80M1472.03 1283.00V1279.80M1492.96 1283.00V1279.80M1507.81 1283.00V1279.80M1519.32 1283.00V1279.80M1528.73 1283.00V1279.80M1536.69 1283.00V1279.80M1543.58 1283.00V1279.80M1549.66 1283.00V1279.80M1590.87 1283.00V1279.80M1611.79 1283.00V1279.80M1626.64 1283.00V1279.80M1638.16 1283.00V1279.80M1647.57 1283.00V1279.80M1655.52 1283.00V1279.80M1662.41 1283.00V1279.80M1668.49 1283.00V1279.80M1709.70 1283.00V1279.80M1730.63 1283.00V1279.80M1745.48 1283.00V1279.80M1756.99 1283.00V1279.80M1766.40 1283.00V1279.80M1774.36 1283.00V1279.80M1781.25 1283.00V1279.80M1787.33 1283.00V1279.80M1828.54 1283.00V1279.80M1849.46 1283.00V1279.80M1864.31 1283.00V1279.80M1875.83 1283.00V1279.80M1885.24 1283.00V1279.80M1893.19 1283.00V1279.80M1900.08 1283.00V1279.80M1906.16 1283.00V1279.80M1363.72 741.10V744.30M1373.13 741.10V744.30M1381.09 741.10V744.30M1387.98 741.10V744.30M1394.06 741.10V744.30M1435.27 741.10V744.30M1456.19 741.10V744.30M1471.04 741.10V744.30M1482.56 741.10V744.30M1491.97 741.10V744.30M1499.92 741.10V744.30M1506.81 741.10V744.30M1512.89 741.10V744.30M1554.10 741.10V744.30M1575.03 741.10V744.30M1589.87 741.10V744.30M1601.39 741.10V744.30M1610.80 741.10V744.30M1618.76 741.10V744.30M1625.65 741.10V744.30M1631.73 741.10V744.30M1672.94 741.10V744.30M1693.86 741.10V744.30M1708.71 741.10V744.30M1720.23 741.10V744.30M1729.63 741.10V744.30M1737.59 741.10V744.30M1744.48 741.10V744.30M1750.56 741.10V744.30M1791.77 741.10V744.30M1812.70 741.10V744.30M1827.54 741.10V744.30M1839.06 741.10V744.30M1848.47 741.10V744.30M1856.42 741.10V744.30M1863.32 741.10V744.30M1869.40 741.10V744.30M1910.61 741.10V744.30" stroke="#000" stroke-width="1.00" fill="none"/>
<rect x="1353.20" y="741.10" width="558.40" height="541.90" fill="none" stroke="#000" stroke-width="2"/>
<text x="66.79 82.13 109.17 122.67" y="690.74" font-family="'DejaVu Sans', sans-serif" font-size="42.50">-0.5</text>
<text x="81.23 108.27 121.78" y="631.08" font-family="'DejaVu Sans', sans-serif" font-size="42.50">0.0</text>
<text x="82.13 109.17 122.67" y="571.43" font-family="'DejaVu Sans', sans-serif" font-size="42.50">0.5</text>
<text x="81.23 108.27 121.78" y="511.77" font-family="'DejaVu Sans', sans-serif" font-size="42.50">1.0</text>
<text x="82.13 109.17 122.67" y="452.12" font-family="'DejaVu Sans', sans-serif" font-size="42.50">1.5</text>
<text x="81.23 108.27 121.78" y="392.46" font-family="'DejaVu Sans', sans-serif" font-size="42.50">2.0</text>
<text x="82.13 109.17 122.67" y="332.80" font-family="'DejaVu Sans', sans-serif" font-size="42.50">2.5</text>
<text x="81.23 108.27 121.78" y="273.15" font-family="'DejaVu Sans', sans-serif" font-size="42.50">3.0</text>
<text x="82.13 109.17 122.67" y="213.49" font-family="'DejaVu Sans', sans-serif" font-size="42.50">3.5</text>
<text x="66.79 82.13 109.17 122.67" y="1294.70" font-family="'DejaVu Sans', sans-serif" font-size="42.50">-0.5</text>
<text x="81.23 108.27 121.78" y="1186.32" font-family="'DejaVu Sans', sans-serif" font-size="42.50">0.0</text>
<text x="82.13 109.17 122.67" y="1077.94" font-family="'DejaVu Sans', sans-serif" font-size="42.50">0.5</text>
<text x="81.23 108.27 121.78" y="969.56" font-family="'DejaVu Sans', sans-serif" font-size="42.50">1.0</text>
<text x="82.13 109.17 122.67" y="861.18" font-family="'DejaVu Sans', sans-serif" font-size="42.50">1.5</text>
<text x="81.23 108.27 121.78" y="752.80" font-family="'DejaVu Sans', sans-serif" font-size="42.50">2.0</text>
<text x="198.04 225.08" y="1322.50" font-family="'DejaVu Sans', sans-serif" font-size="42.50">10</text><text x="252.62 263.36" y="1306.30" font-family="'DejaVu Sans', sans-serif" font-size="29.75">-4</text>
<text x="317.23 344.27" y="1322.50" font-family="'DejaVu Sans', sans-serif" font-size="42.50">10</text><text x="371.81 382.55" y="1306.30" font-family="'DejaVu Sans', sans-serif" font-size="29.75">-3</text>
<text x="436.36 463.40" y="1322.50" font-family="'DejaVu Sans', sans-serif" font-size="42.50">10</text><text x="490.94 501.68" y="1306.30" font-family="'DejaVu Sans', sans-serif" font-size="29.75">-2</text>
<text x="555.08 582.12" y="1322.50" font-family="'DejaVu Sans', sans-serif" font-size="42.50">10</text><text x="609.66 620.40" y="1306.30" font-family="'DejaVu Sans', sans-serif" font-size="29.75">-1</text>
<text x="678.90 705.94" y="1322.50" font-family="'DejaVu Sans', sans-serif" font-size="42.50">10</text><text x="733.48" y="1306.30" font-family="'DejaVu Sans', sans-serif" font-size="29.75">0</text>
<text x="166.09 193.13" y="148.80" font-family="'DejaVu Sans', sans-serif" font-size="42.50">10</text><text x="220.67" y="132.60" font-family="'DejaVu Sans', sans-serif" font-size="29.75">0</text>
<text x="285.31 312.35" y="148.80" font-family="'DejaVu Sans', sans-serif" font-size="42.50">10</text><text x="339.89" y="132.60" font-family="'DejaVu Sans', sans-serif" font-size="29.75">1</text>
<text x="404.26 431.30" y="148.80" font-family="'DejaVu Sans', sans-serif" font-size="42.50">10</text><text x="458.84" y="132.60" font-family="'DejaVu Sans', sans-serif" font-size="29.75">2</text>
<text x="522.80 549.84" y="148.80" font-family="'DejaVu Sans', sans-serif" font-size="42.50">10</text><text x="577.38" y="132.60" font-family="'DejaVu Sans', sans-serif" font-size="29.75">3</text>
<text x="641.28 668.32" y="148.80" font-family="'DejaVu Sans', sans-serif" font-size="42.50">10</text><text x="695.86" y="132.60" font-family="'DejaVu Sans', sans-serif" font-size="29.75">4</text>
<text x="796.84 823.88" y="1322.50" font-family="'DejaVu Sans', sans-serif" font-size="42.50">10</text><text x="851.42 862.16" y="1306.30" font-family="'DejaVu Sans', sans-serif" font-size="29.75">-4</text>
<text x="916.03 943.07" y="1322.50" font-family="'DejaVu Sans', sans-serif" font-size="42.50">10</text><text x="970.61 981.35" y="1306.30" font-family="'DejaVu Sans', sans-serif" font-size="29.75">-3</text>
<text x="1035.16 1062.20" y="1322.50" font-family="'DejaVu Sans', sans-serif" font-size="42.50">10</text><text x="1089.74 1100.48" y="1306.30" font-family="'DejaVu Sans', sans-serif" font-size="29.75">-2</text>
<text x="1153.88 1180.92" y="1322.50" font-family="'DejaVu Sans', sans-serif" font-size="42.50">10</text><text x="1208.46 1219.20" y="1306.30" font-family="'DejaVu Sans', sans-serif" font-size="29.75">-1</text>
<text x="1277.70 1304.74" y="1322.50" font-family="'DejaVu Sans', sans-serif" font-size="42.50">10</text><text x="1332.28" y="1306.30" font-family="'DejaVu Sans', sans-serif" font-size="29.75">0</text>
<text x="764.89 791.93" y="148.80" font-family="'DejaVu Sans', sans-serif" font-size="42.50">10</text><text x="819.47" y="132.60" font-family="'DejaVu Sans', sans-serif" font-size="29.75">0</text>
<text x="884.11 911.15" y="148.80" font-family="'DejaVu Sans', sans-serif" font-size="42.50">10</text><text x="938.69" y="132.60" font-family="'DejaVu Sans', sans-serif" font-size="29.75">1</text>
<text x="1003.06 1030.10" y="148.80" font-family="'DejaVu Sans', sans-serif" font-size="42.50">10</text><text x="1057.64" y="132.60" font-family="'DejaVu Sans', sans-serif" font-size="29.75">2</text>
<text x="1121.60 1148.64" y="148.80" font-family="'DejaVu Sans', sans-serif" font-size="42.50">10</text><text x="1176.18" y="132.60" font-family="'DejaVu Sans', sans-serif" font-size="29.75">3</text>
<text x="1240.08 1267.12" y="148.80" font-family="'DejaVu Sans', sans-serif" font-size="42.50">10</text><text x="1294.66" y="132.60" font-family="'DejaVu Sans', sans-serif" font-size="29.75">4</text>
<text x="1395.64 1422.68" y="1322.50" font-family="'DejaVu Sans', sans-serif" font-size="42.50">10</text><text x="1450.22 1460.96" y="1306.30" font-family="'DejaVu Sans', sans-serif" font-size="29.75">-4</text>
<text x="1514.83 1541.87" y="1322.50" font-family="'DejaVu Sans', sans-serif" font-size="42.50">10</text><text x="1569.41 1580.15" y="1306.30" font-family="'DejaVu Sans', sans-serif" font-size="29.75">-3</text>
<text x="1633.96 1661.00" y="1322.50" font-family="'DejaVu Sans', sans-serif" font-size="42.50">10</text><text x="1688.54 1699.28" y="1306.30" font-family="'DejaVu Sans', sans-serif" font-size="29.75">-2</text>
<text x="1752.68 1779.72" y="1322.50" font-family="'DejaVu Sans', sans-serif" font-size="42.50">10</text><text x="1807.26 1818.00" y="1306.30" font-family="'DejaVu Sans', sans-serif" font-size="29.75">-1</text>
<text x="1876.50 1903.54" y="1322.50" font-family="'DejaVu Sans', sans-serif" font-size="42.50">10</text><text x="1931.08" y="1306.30" font-family="'DejaVu Sans', sans-serif" font-size="29.75">0</text>
<text x="1363.69 1390.73" y="148.80" font-family="'DejaVu Sans', sans-serif" font-size="42.50">10</text><text x="1418.27" y="132.60" font-family="'DejaVu Sans', sans-serif" font-size="29.75">0</text>
<text x="1482.91 1509.95" y="148.80" font-family="'DejaVu Sans', sans-serif" font-size="42.50">10</text><text x="1537.49" y="132.60" font-family="'DejaVu Sans', sans-serif" font-size="29.75">1</text>
<text x="1601.86 1628.90" y="148.80" font-family="'DejaVu Sans', sans-serif" font-size="42.50">10</text><text x="1656.44" y="132.60" font-family="'DejaVu Sans', sans-serif" font-size="29.75">2</text>
<text x="1720.40 1747.44" y="148.80" font-family="'DejaVu Sans', sans-serif" font-size="42.50">10</text><text x="1774.98" y="132.60" font-family="'DejaVu Sans', sans-serif" font-size="29.75">3</text>
<text x="1838.88 1865.92" y="148.80" font-family="'DejaVu Sans', sans-serif" font-size="42.50">10</text><text x="1893.46" y="132.60" font-family="'DejaVu Sans', sans-serif" font-size="29.75">4</text>
<text transform="translate(397.40 46.70) scale(0.8700 1.0000)" x="-23.33" y="0.00" font-family="'Liberation Serif', serif" font-size="67.20">R</text>
<text transform="translate(439.40 46.70)" x="-16.67" y="0.00" font-family="'Liberation Serif', serif" font-size="67.20">u</text>
<text transform="translate(483.30 46.70)" x="-17.06" y="0.00" font-family="'Liberation Serif', serif" font-size="67.20">n</text>
<text transform="translate(539.80 46.70) scale(0.8000 1.0000)" x="-11.22" y="0.00" font-family="'Liberation Serif', serif" font-size="67.20">I</text>
<text transform="translate(956.10 44.80) scale(0.8700 1.0000)" x="-23.33" y="0.00" font-family="'Liberation Serif', serif" font-size="67.20">R</text>
<text transform="translate(999.60 44.80)" x="-16.67" y="0.00" font-family="'Liberation Serif', serif" font-size="67.20">u</text>
<text transform="translate(1042.30 44.80)" x="-17.06" y="0.00" font-family="'Liberation Serif', serif" font-size="67.20">n</text>
<text transform="translate(1098.90 44.80) scale(0.8000 1.0000)" x="-11.22" y="0.00" font-family="'Liberation Serif', serif" font-size="67.20">I</text>
<text transform="translate(1127.25 44.80) scale(0.8000 1.0000)" x="-11.22" y="0.00" font-family="'Liberation Serif', serif" font-size="67.20">I</text>
<text transform="translate(1543.45 45.00) scale(0.8700 1.0000)" x="-23.33" y="0.00" font-family="'Liberation Serif', serif" font-size="67.20">R</text>
<text transform="translate(1587.25 45.00)" x="-16.67" y="0.00" font-family="'Liberation Serif', serif" font-size="67.20">u</text>
<text transform="translate(1629.35 45.00)" x="-17.06" y="0.00" font-family="'Liberation Serif', serif" font-size="67.20">n</text>
<text transform="translate(1686.15 45.00) scale(0.8000 1.0000)" x="-11.22" y="0.00" font-family="'Liberation Serif', serif" font-size="67.20">I</text>
<text transform="translate(1714.30 45.00) scale(0.8000 1.0000)" x="-11.22" y="0.00" font-family="'Liberation Serif', serif" font-size="67.20">I</text>
<text transform="translate(1742.15 45.00) scale(0.8000 1.0000)" x="-11.22" y="0.00" font-family="'Liberation Serif', serif" font-size="67.20">I</text>
<text transform="translate(387.70 108.00) scale(1.1500 1.0000)" x="-8.33" y="0.00" font-family="'Liberation Serif', serif" font-size="38.50" font-style="italic">r</text>
<text x="410.05 426.63 452.67 479.61" y="108.00" font-family="'DejaVu Sans', sans-serif" font-size="42.50">[au]</text>
<text transform="translate(392.15 1376.00) scale(1.1500 1.0000)" x="-8.87" y="0.00" font-family="'Liberation Serif', serif" font-size="41.00" font-style="italic">r</text>
<text transform="translate(424.15 1364.35) scale(0.6000 1.0000)" x="-9.65" y="14.56" font-family="'Liberation Serif', serif" font-size="52.00">[</text>
<text transform="translate(446.00 1376.00) scale(1.1200 1.0000)" x="-13.25" y="0.00" font-family="'Liberation Serif', serif" font-size="45.00" font-style="italic">R</text>
<text transform="translate(470.50 1372.85)" x="-7.67" y="10.06" font-family="'Liberation Serif', serif" font-size="30.70">0</text>
<text transform="translate(484.30 1364.35) scale(0.6000 1.0000)" x="-7.67" y="14.56" font-family="'Liberation Serif', serif" font-size="52.00">]</text>
<text transform="translate(986.50 108.00) scale(1.1500 1.0000)" x="-8.33" y="0.00" font-family="'Liberation Serif', serif" font-size="38.50" font-style="italic">r</text>
<text x="1008.85 1025.43 1051.47 1078.41" y="108.00" font-family="'DejaVu Sans', sans-serif" font-size="42.50">[au]</text>
<text transform="translate(990.95 1376.00) scale(1.1500 1.0000)" x="-8.87" y="0.00" font-family="'Liberation Serif', serif" font-size="41.00" font-style="italic">r</text>
<text transform="translate(1022.95 1364.35) scale(0.6000 1.0000)" x="-9.65" y="14.56" font-family="'Liberation Serif', serif" font-size="52.00">[</text>
<text transform="translate(1044.80 1376.00) scale(1.1200 1.0000)" x="-13.25" y="0.00" font-family="'Liberation Serif', serif" font-size="45.00" font-style="italic">R</text>
<text transform="translate(1069.30 1372.85)" x="-7.67" y="10.06" font-family="'Liberation Serif', serif" font-size="30.70">0</text>
<text transform="translate(1083.10 1364.35) scale(0.6000 1.0000)" x="-7.67" y="14.56" font-family="'Liberation Serif', serif" font-size="52.00">]</text>
<text transform="translate(1585.30 108.00) scale(1.1500 1.0000)" x="-8.33" y="0.00" font-family="'Liberation Serif', serif" font-size="38.50" font-style="italic">r</text>
<text x="1607.65 1624.23 1650.27 1677.21" y="108.00" font-family="'DejaVu Sans', sans-serif" font-size="42.50">[au]</text>
<text transform="translate(1589.75 1376.00) scale(1.1500 1.0000)" x="-8.87" y="0.00" font-family="'Liberation Serif', serif" font-size="41.00" font-style="italic">r</text>
<text transform="translate(1621.75 1364.35) scale(0.6000 1.0000)" x="-9.65" y="14.56" font-family="'Liberation Serif', serif" font-size="52.00">[</text>
<text transform="translate(1643.60 1376.00) scale(1.1200 1.0000)" x="-13.25" y="0.00" font-family="'Liberation Serif', serif" font-size="45.00" font-style="italic">R</text>
<text transform="translate(1668.10 1372.85)" x="-7.67" y="10.06" font-family="'Liberation Serif', serif" font-size="30.70">0</text>
<text transform="translate(1681.90 1364.35) scale(0.6000 1.0000)" x="-7.67" y="14.56" font-family="'Liberation Serif', serif" font-size="52.00">]</text>
<text transform="translate(40.50 567.50) rotate(-90)" x="-10.73" y="12.62" font-family="'Liberation Serif', serif" font-size="38.00">−</text>
<text transform="translate(37.00 539.90) rotate(-90)" x="-9.15" y="8.98" font-family="'Liberation Serif', serif" font-size="40.00" font-style="italic">v</text>
<text transform="translate(47.30 522.90) rotate(-90) scale(1.1000 1.0000)" x="-6.49" y="7.07" font-family="'Liberation Serif', serif" font-size="30.00" font-style="italic">r</text>
<text transform="translate(46.80 490.80) rotate(-90)" x="-8.05" y="0.00" font-family="'DejaVu Sans', sans-serif" font-size="42.50">[</text>
<text transform="translate(46.80 467.30) rotate(-90)" x="-14.17" y="0.00" font-family="'DejaVu Sans', sans-serif" font-size="42.50">k</text>
<text transform="translate(46.80 432.80) rotate(-90)" x="-20.82" y="0.00" font-family="'DejaVu Sans', sans-serif" font-size="42.50">m</text>
<text transform="translate(46.80 388.30) rotate(-90)" x="-11.19" y="0.00" font-family="'DejaVu Sans', sans-serif" font-size="42.50">s</text>
<text transform="translate(46.80 323.80) rotate(-90)" x="-8.53" y="0.00" font-family="'DejaVu Sans', sans-serif" font-size="42.50">]</text>
<text transform="translate(22.10 362.60) rotate(-90)" x="-10.88" y="12.78" font-family="'Liberation Serif', serif" font-size="38.50">−</text>
<text transform="translate(19.45 342.65) rotate(-90)" x="-7.79" y="9.74" font-family="'Liberation Serif', serif" font-size="29.50">1</text>
<text transform="translate(29.75 1121.55) rotate(-90)" x="-9.15" y="8.98" font-family="'Liberation Serif', serif" font-size="40.00" font-style="italic">v</text>
<text transform="translate(43.15 1101.10) rotate(-90)" x="-8.33" y="3.88" font-family="'Liberation Serif', serif" font-size="30.00" font-style="italic">φ</text>
<text transform="translate(39.40 1065.80) rotate(-90)" x="-8.05" y="0.00" font-family="'DejaVu Sans', sans-serif" font-size="42.50">[</text>
<text transform="translate(39.40 1042.40) rotate(-90)" x="-14.17" y="0.00" font-family="'DejaVu Sans', sans-serif" font-size="42.50">k</text>
<text transform="translate(39.40 1009.05) rotate(-90)" x="-20.82" y="0.00" font-family="'DejaVu Sans', sans-serif" font-size="42.50">m</text>
<text transform="translate(39.40 961.85) rotate(-90)" x="-11.19" y="0.00" font-family="'DejaVu Sans', sans-serif" font-size="42.50">s</text>
<text transform="translate(39.40 896.85) rotate(-90)" x="-8.53" y="0.00" font-family="'DejaVu Sans', sans-serif" font-size="42.50">]</text>
<text transform="translate(14.50 936.15) rotate(-90)" x="-10.73" y="12.62" font-family="'Liberation Serif', serif" font-size="38.00">−</text>
<text transform="translate(12.40 916.25) rotate(-90)" x="-7.79" y="9.74" font-family="'Liberation Serif', serif" font-size="29.50">1</text>
<text x="173.79 192.91 222.93" y="686.40" font-family="'DejaVu Sans', sans-serif" font-size="49.00">(a)</text>
<text x="772.59 791.71 822.81" y="686.40" font-family="'DejaVu Sans', sans-serif" font-size="49.00">(b)</text>
<text x="1371.39 1390.51 1417.45" y="686.40" font-family="'DejaVu Sans', sans-serif" font-size="49.00">(c)</text>
<text x="173.79 192.91 224.01" y="1261.30" font-family="'DejaVu Sans', sans-serif" font-size="49.00">(d)</text>
<text x="772.59 791.71 821.85" y="1261.30" font-family="'DejaVu Sans', sans-serif" font-size="49.00">(e)</text>
<text x="1371.39 1390.51 1407.76" y="1261.30" font-family="'DejaVu Sans', sans-serif" font-size="49.00">(f)</text>
<line x1="198.1" y1="221.80" x2="255.9" y2="221.80" stroke="#e00000" stroke-width="4.5"/>
<text transform="translate(306.10 234.90)" x="-10.03" y="0.00" font-family="'Liberation Serif', serif" font-size="38.00">1</text>
<line x1="198.1" y1="262.00" x2="255.9" y2="262.00" stroke="#b0178c" stroke-width="4.5"/>
<text transform="translate(306.10 275.90)" x="-9.29" y="0.00" font-family="'Liberation Serif', serif" font-size="38.00">2</text>
<line x1="198.1" y1="303.00" x2="255.9" y2="303.00" stroke="#0000d0" stroke-width="4.5"/>
<text transform="translate(306.10 316.90)" x="-9.67" y="0.00" font-family="'Liberation Serif', serif" font-size="38.00">3</text>
<line x1="198.1" y1="343.90" x2="255.9" y2="343.90" stroke="#000000" stroke-width="4.5"/>
<text transform="translate(306.10 357.50)" x="-9.57" y="0.00" font-family="'Liberation Serif', serif" font-size="38.00">4</text>
<text transform="translate(513.70 839.20) scale(1.0000 0.5500)" x="-14.69" y="17.27" font-family="'Liberation Serif', serif" font-size="52.00">−</text><text transform="translate(539.60 849.00)" x="-11.03" y="0.00" font-family="'Liberation Serif', serif" font-size="41.80">1</text><text transform="translate(559.90 839.00) scale(1.3000 1.5600)" x="-5.56" y="12.99" font-family="'Liberation Serif', serif" font-size="40.00">/</text><text transform="translate(579.90 849.00)" x="-10.26" y="0.00" font-family="'Liberation Serif', serif" font-size="42.00">2</text>
<text transform="translate(621.20 990.70) scale(1.0000 0.5500)" x="-14.69" y="17.27" font-family="'Liberation Serif', serif" font-size="52.00">−</text><text transform="translate(647.10 1000.50)" x="-11.03" y="0.00" font-family="'Liberation Serif', serif" font-size="41.80">1</text><text transform="translate(667.40 990.50) scale(1.3000 1.5600)" x="-5.56" y="12.99" font-family="'Liberation Serif', serif" font-size="40.00">/</text><text transform="translate(687.40 1000.50)" x="-10.26" y="0.00" font-family="'Liberation Serif', serif" font-size="42.00">2</text>
<text transform="translate(1148.10 818.20) scale(1.0000 0.5500)" x="-14.69" y="17.27" font-family="'Liberation Serif', serif" font-size="52.00">−</text><text transform="translate(1174.00 828.00)" x="-11.03" y="0.00" font-family="'Liberation Serif', serif" font-size="41.80">1</text><text transform="translate(1194.30 818.00) scale(1.3000 1.5600)" x="-5.56" y="12.99" font-family="'Liberation Serif', serif" font-size="40.00">/</text><text transform="translate(1214.30 828.00)" x="-10.26" y="0.00" font-family="'Liberation Serif', serif" font-size="42.00">2</text>
<text transform="translate(1519.10 1066.00)" x="-11.03" y="0.00" font-family="'Liberation Serif', serif" font-size="41.80">1</text><text transform="translate(1539.40 1056.00) scale(1.3000 1.5600)" x="-5.56" y="12.99" font-family="'Liberation Serif', serif" font-size="40.00">/</text><text transform="translate(1559.40 1066.00)" x="-10.26" y="0.00" font-family="'Liberation Serif', serif" font-size="42.00">2</text>
<text transform="translate(1727.10 1034.70) scale(1.0000 0.5500)" x="-14.69" y="17.27" font-family="'Liberation Serif', serif" font-size="52.00">−</text><text transform="translate(1753.00 1044.50)" x="-11.03" y="0.00" font-family="'Liberation Serif', serif" font-size="41.80">1</text><text transform="translate(1773.30 1034.50) scale(1.3000 1.5600)" x="-5.56" y="12.99" font-family="'Liberation Serif', serif" font-size="40.00">/</text><text transform="translate(1793.30 1044.50)" x="-10.26" y="0.00" font-family="'Liberation Serif', serif" font-size="42.00">2</text>
<text transform="translate(307.65 952.50)" x="-10.82" y="0.00" font-family="'Liberation Serif', serif" font-size="41.00">1</text>
<g transform="translate(407.30 1260.49) rotate(-90)"><text x="0.00 17.89 37.69 51.81" y="0.00" font-family="'Liberation Serif', serif" font-size="34.00">core</text></g>
<g transform="translate(519.50 1250.78) rotate(-90)"><text x="0.00 21.71" y="0.00" font-family="'Liberation Serif', serif" font-size="34.00">PD</text></g>
<g transform="translate(1096.50 1260.19) rotate(-90)"><text x="0.00 17.89 37.69 51.81" y="0.00" font-family="'Liberation Serif', serif" font-size="34.00">core</text></g>
<g transform="translate(1251.10 1251.28) rotate(-90)"><text x="0.00 21.71" y="0.00" font-family="'Liberation Serif', serif" font-size="34.00">PD</text></g>
<g transform="translate(1628.80 1261.09) rotate(-90)"><text x="0.00 17.89 37.69 51.81" y="0.00" font-family="'Liberation Serif', serif" font-size="34.00">core</text></g>
<g transform="translate(1878.80 1250.68) rotate(-90)"><text x="0.00 21.71" y="0.00" font-family="'Liberation Serif', serif" font-size="34.00">PD</text></g>
</svg></body></html>
